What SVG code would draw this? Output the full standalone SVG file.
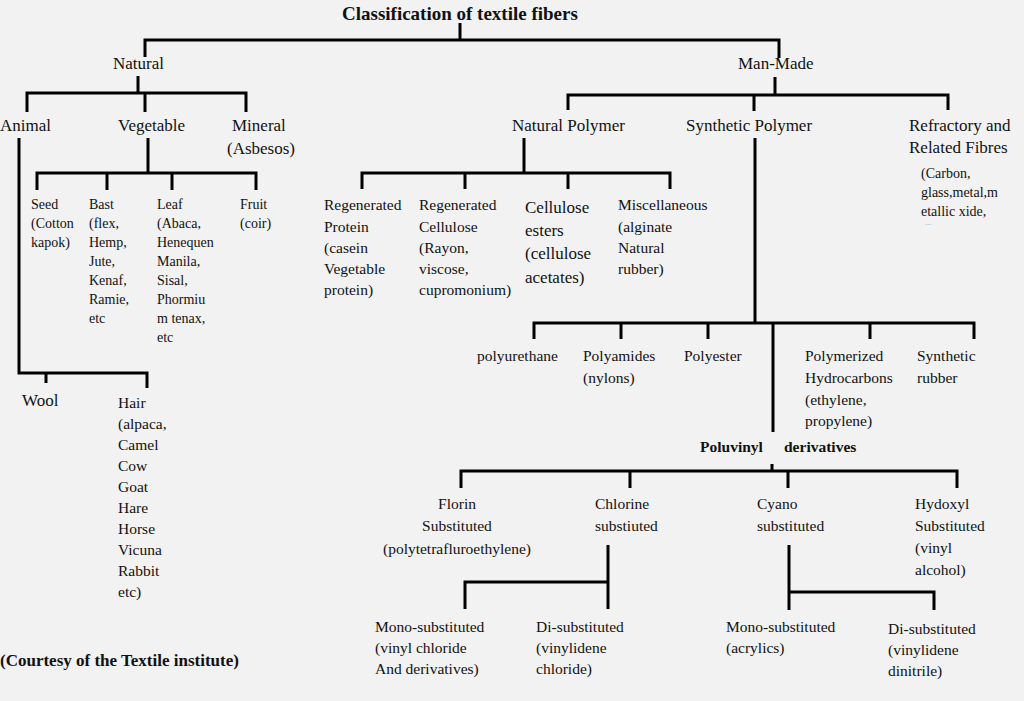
<svg xmlns="http://www.w3.org/2000/svg" width="1024" height="701" viewBox="0 0 1024 701">
<style>
text{font-family:"Liberation Serif","Times New Roman",serif;fill:#111}
.h{font-size:17px}
.m{font-size:15.5px}
.s{font-size:14px}
.b{font-weight:bold}
.c{text-anchor:middle}
#connectors path{fill:none;stroke:#000;stroke-width:3}
</style>
<rect width="1024" height="701" fill="#f2f2f2"/>
<g id="connectors">
<path d="M460,23 V40"/>
<path d="M145,57 V40 H779 V58"/>
<path d="M138,76 V93"/>
<path d="M27,112 V93 H246 V112"/>
<path d="M145,93 V112"/>
<path d="M19,138 V373 H147 V388"/>
<path d="M46,373 V383"/>
<path d="M148,138 V173"/>
<path d="M37,190 V173 H256 V190"/>
<path d="M107,173 V190"/>
<path d="M172,173 V190"/>
<path d="M775,77 V95"/>
<path d="M568,110 V95 H948 V110"/>
<path d="M754,95 V111"/>
<path d="M524,138 V173"/>
<path d="M362,189 V173 H670 V189"/>
<path d="M465,173 V189"/>
<path d="M568,173 V189"/>
<path d="M755,138 V323"/>
<path d="M534,339 V323 H974 V339"/>
<path d="M621,323 V339"/>
<path d="M708,323 V339"/>
<path d="M870,323 V339"/>
<path d="M773,323 V432"/>
<path d="M772,464 V471"/>
<path d="M461,488 V471 H957 V488"/>
<path d="M630,471 V488"/>
<path d="M788,471 V488"/>
<path d="M608,545 V609"/>
<path d="M465,609 V582 H608"/>
<path d="M789,545 V610"/>
<path d="M789,592 H934 V610"/>
</g>
<g id="title"><text class="h b" x="342" y="20" style="font-size:19px">Classification of textile fibers</text></g>
<g id="natural"><text class="h" x="113" y="69">Natural</text></g>
<g id="man-made"><text class="h" x="738" y="69">Man-Made</text></g>
<g id="animal"><text class="h" x="0" y="131">Animal</text></g>
<g id="vegetable"><text class="h" x="118" y="131">Vegetable</text></g>
<g id="mineral"><text class="h" x="232" y="131">Mineral</text><text class="h" x="227" y="154">(Asbesos)</text></g>
<g id="seed"><text class="s" x="31" y="209">Seed</text><text class="s" x="31" y="228">(Cotton</text><text class="s" x="31" y="247">kapok)</text></g>
<g id="bast"><text class="s" x="89" y="209">Bast</text><text class="s" x="89" y="228">(flex,</text><text class="s" x="89" y="247">Hemp,</text><text class="s" x="89" y="266">Jute,</text><text class="s" x="89" y="285">Kenaf,</text><text class="s" x="89" y="304">Ramie,</text><text class="s" x="89" y="323">etc</text></g>
<g id="leaf"><text class="s" x="157" y="209">Leaf</text><text class="s" x="157" y="228">(Abaca,</text><text class="s" x="157" y="247">Henequen</text><text class="s" x="157" y="266">Manila,</text><text class="s" x="157" y="285">Sisal,</text><text class="s" x="157" y="304">Phormiu</text><text class="s" x="157" y="323">m tenax,</text><text class="s" x="157" y="342">etc</text></g>
<g id="fruit"><text class="s" x="240" y="209">Fruit</text><text class="s" x="240" y="228">(coir)</text></g>
<g id="wool"><text class="h" x="22" y="406">Wool</text></g>
<g id="hair"><text class="m" x="118" y="408">Hair</text><text class="m" x="118" y="429">(alpaca,</text><text class="m" x="118" y="450">Camel</text><text class="m" x="118" y="471">Cow</text><text class="m" x="118" y="492">Goat</text><text class="m" x="118" y="513">Hare</text><text class="m" x="118" y="534">Horse</text><text class="m" x="118" y="555">Vicuna</text><text class="m" x="118" y="576">Rabbit</text><text class="m" x="118" y="597">etc)</text></g>
<g id="courtesy"><text class="h b" x="0" y="666">(Courtesy of the Textile institute)</text></g>
<g id="natural-polymer"><text class="h" x="512" y="131">Natural Polymer</text></g>
<g id="synthetic-polymer"><text class="h" x="686" y="131">Synthetic Polymer</text></g>
<g id="refractory"><text class="h" x="909" y="131">Refractory and</text><text class="h" x="909" y="153">Related Fibres</text><text class="s" x="921" y="178">(Carbon,</text><text class="s" x="921" y="197">glass,metal,m</text><text class="s" x="921" y="216">etallic xide,</text><text x="925" y="225" style="font-size:8px;fill:#999">...</text></g>
<g id="regenerated-protein"><text class="m" x="324" y="210">Regenerated</text><text class="m" x="324" y="232">Protein</text><text class="m" x="324" y="253">(casein</text><text class="m" x="324" y="274">Vegetable</text><text class="m" x="324" y="295">protein)</text></g>
<g id="regenerated-cellulose"><text class="m" x="419" y="210">Regenerated</text><text class="m" x="419" y="232">Cellulose</text><text class="m" x="419" y="253">(Rayon,</text><text class="m" x="419" y="274">viscose,</text><text class="m" x="419" y="295">cupromonium)</text></g>
<g id="cellulose-esters"><text class="h" x="525" y="213">Cellulose</text><text class="h" x="525" y="236">esters</text><text class="h" x="525" y="259">(cellulose</text><text class="h" x="525" y="283">acetates)</text></g>
<g id="miscellaneous"><text class="m" x="618" y="210">Miscellaneous</text><text class="m" x="618" y="232">(alginate</text><text class="m" x="618" y="253">Natural</text><text class="m" x="618" y="274">rubber)</text></g>
<g id="polyurethane"><text class="m" x="477" y="361">polyurethane</text></g>
<g id="polyamides"><text class="m" x="583" y="361">Polyamides</text><text class="m" x="583" y="383">(nylons)</text></g>
<g id="polyester"><text class="m" x="684" y="361">Polyester</text></g>
<g id="polymerized-hydrocarbons"><text class="m" x="805" y="361">Polymerized</text><text class="m" x="805" y="383">Hydrocarbons</text><text class="m" x="805" y="405">(ethylene,</text><text class="m" x="805" y="426">propylene)</text></g>
<g id="synthetic-rubber"><text class="m" x="917" y="361">Synthetic</text><text class="m" x="917" y="383">rubber</text></g>
<g id="poluvinyl"><text class="m b" x="700" y="452">Poluvinyl<tspan x="784">derivatives</tspan></text></g>
<g id="florin"><text class="m c" x="457" y="509">Florin</text><text class="m c" x="457" y="531">Substituted</text><text class="m c" x="457" y="554">(polytetrafluroethylene)</text></g>
<g id="chlorine"><text class="m" x="595" y="509">Chlorine</text><text class="m" x="595" y="531">substiuted</text></g>
<g id="cyano"><text class="m" x="757" y="509">Cyano</text><text class="m" x="757" y="531">substituted</text></g>
<g id="hydoxyl"><text class="m" x="915" y="509">Hydoxyl</text><text class="m" x="915" y="531">Substituted</text><text class="m" x="915" y="553">(vinyl</text><text class="m" x="915" y="575">alcohol)</text></g>
<g id="chlorine-mono"><text class="m" x="375" y="632">Mono-substituted</text><text class="m" x="375" y="653">(vinyl chloride</text><text class="m" x="375" y="674">And derivatives)</text></g>
<g id="chlorine-di"><text class="m" x="536" y="632">Di-substituted</text><text class="m" x="536" y="653">(vinylidene</text><text class="m" x="536" y="674">chloride)</text></g>
<g id="cyano-mono"><text class="m" x="726" y="632">Mono-substituted</text><text class="m" x="726" y="653">(acrylics)</text></g>
<g id="cyano-di"><text class="m" x="888" y="634">Di-substituted</text><text class="m" x="888" y="655">(vinylidene</text><text class="m" x="888" y="676">dinitrile)</text></g>
</svg>
